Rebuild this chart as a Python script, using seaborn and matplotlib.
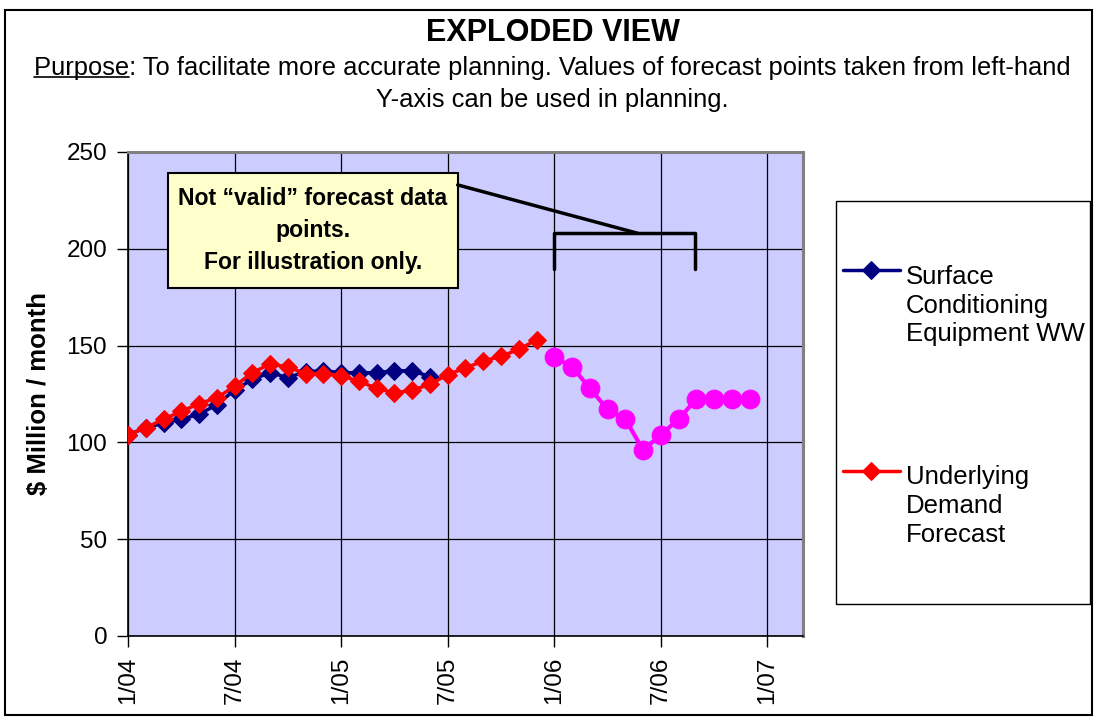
import pandas as pd
import matplotlib
matplotlib.use("Agg")
import matplotlib.pyplot as plt
import seaborn as sns
from matplotlib.patches import Rectangle
from matplotlib.lines import Line2D
from matplotlib.legend_handler import HandlerLine2D

# ── Data (months counted from 1/04) ──────────────────────────────────
surface_months = list(range(0, 18))
surface_values = [104, 107.5, 110, 112, 114.5, 119.5, 127, 132.5, 136, 133.5,
                  136.5, 137, 136, 136, 136, 137, 137, 134]

demand_months = list(range(0, 24))
demand_values = [104, 107.5, 112, 116, 120, 123, 129, 136, 140.5, 139,
                 135.5, 135.5, 134.5, 131.5, 128, 125.5, 127, 130, 135, 138.5,
                 142, 144.5, 148, 153]

forecast_months = list(range(24, 36))
forecast_values = [144, 139, 128, 117, 112, 96, 104, 112, 122.5, 122.5, 122.5, 122.5]

tick_months = [0, 6, 12, 18, 24, 30, 36]
tick_labels = ["1/04", "7/04", "1/05", "7/05", "1/06", "7/06", "1/07"]

series_labels = ["Surface\nConditioning\nEquipment WW", "Underlying\nDemand\nForecast"]

NAVY = "#000080"
RED = "#FF0000"
MAGENTA = "#FF00FF"
PLOT_BG = "#CCCCFF"

LEG_FS = 18.5
LEG_LINESP = 1.25


class FirstLineHandler(HandlerLine2D):
    # put the legend line next to the first text line instead of the middle one
    def create_artists(self, legend, orig_handle, xdescent, ydescent,
                       width, height, fontsize, trans):
        shift = 2 * 1.4 * fontsize
        return super().create_artists(legend, orig_handle, xdescent,
                                      ydescent - shift, width, height,
                                      fontsize, trans)


sns.set_style("ticks")
plt.rcParams["font.family"] = ["Liberation Sans", "DejaVu Sans"]
for key in ["text.color", "axes.labelcolor", "xtick.color", "ytick.color"]:
    plt.rcParams[key] = "black"

W, H = 1094, 720
fig = plt.figure(figsize=(W / 100, H / 100), dpi=100)
ax = fig.add_axes([128 / W, 1 - 636 / H, (803 - 128) / W, (636 - 152) / H])
ax.set_facecolor(PLOT_BG)

surface_df = pd.DataFrame({"month": surface_months, "value": surface_values})
demand_df = pd.DataFrame({"month": demand_months, "value": demand_values})
forecast_df = pd.DataFrame({"month": forecast_months, "value": forecast_values})

sns.lineplot(data=surface_df, x="month", y="value", ax=ax, color=NAVY,
             linewidth=2.5, marker="D", markersize=9.5, markeredgecolor=NAVY,
             label=series_labels[0], zorder=3)
sns.lineplot(data=demand_df, x="month", y="value", ax=ax, color=RED,
             linewidth=2.5, marker="D", markersize=9.5, markeredgecolor=RED,
             label=series_labels[1], zorder=4)
sns.lineplot(data=forecast_df, x="month", y="value", ax=ax, color=MAGENTA,
             linewidth=3, marker="o", markersize=13.5, markeredgecolor=MAGENTA,
             zorder=5)

# ── Axes styling ─────────────────────────────────────────────────────
ax.set_xlim(0, 38)
ax.set_ylim(0, 250)
ax.set_xticks(tick_months)
ax.set_xticklabels(tick_labels, rotation=90)
ax.set_yticks([0, 50, 100, 150, 200, 250])
ax.grid(True, color="black", linewidth=0.9)
ax.set_axisbelow(True)
ax.tick_params(axis="both", direction="out", length=8, width=1, color="black",
               labelsize=17.5, pad=7)
ax.set_xlabel("")
ax.set_ylabel("$ Million / month", fontsize=18.5, fontweight="bold")
ax.yaxis.set_label_coords(-0.114, 0.5)
for side in ["left", "bottom"]:
    ax.spines[side].set_color("black")
    ax.spines[side].set_linewidth(1.2)
for side in ["top", "right"]:
    ax.spines[side].set_color("#808080")
    ax.spines[side].set_linewidth(2.2)

# ── "Not valid" callout ──────────────────────────────────────────────
ax.add_patch(Rectangle((2.25, 180), 16.3, 59, facecolor="#FFFFCC",
                       edgecolor="black", linewidth=1.5, zorder=6))
ax.text(10.4, 209.5, "Not \u201cvalid\u201d forecast data\npoints.\nFor illustration only.",
        ha="center", va="center", fontsize=16.6, fontweight="bold",
        linespacing=1.52, zorder=7)
ax.plot([18.56, 28.7], [233, 208], color="black", linewidth=2.5, zorder=6)
ax.plot([24, 24, 31.9, 31.9], [189.5, 208, 208, 189.5], color="black",
        linewidth=2.5, zorder=6)

# ── Legend in its own framed box ─────────────────────────────────────
ax.legend_.remove()
fig.add_artist(Rectangle((836 / W, 1 - 604 / H), 254 / W, 403 / H,
                         transform=fig.transFigure, facecolor="white",
                         edgecolor="black", linewidth=1))
handles, labels = ax.get_legend_handles_labels()
leg = fig.legend(handles, labels, loc="upper left",
                 bbox_to_anchor=(843 / W, 1 - 265 / H), frameon=False,
                 fontsize=LEG_FS, handlelength=2.2, handletextpad=0.25,
                 labelspacing=4.63, borderaxespad=0, borderpad=0,
                 handler_map={h: FirstLineHandler() for h in handles})
for t in leg.get_texts():
    t.set_linespacing(LEG_LINESP)

# ── Titles ───────────────────────────────────────────────────────────
fig.text(0.505, 1 - 33 / H, "EXPLODED VIEW", ha="center", va="center",
         fontsize=22, fontweight="bold")
sub1 = fig.text(0.505, 1 - 68 / H,
                "Purpose: To facilitate more accurate planning. Values of forecast "
                "points taken from left-hand", ha="center", va="center", fontsize=18.4)
fig.text(0.505, 1 - 100 / H, "Y-axis can be used in planning.", ha="center",
         va="center", fontsize=18.4)

# underline "Purpose"
fig.canvas.draw()
renderer = fig.canvas.get_renderer()
tmp = fig.text(0, 0, "Purpose", fontsize=18.4)
pw = tmp.get_window_extent(renderer).width
tmp.remove()
bb = sub1.get_window_extent(renderer)
uy = (bb.y0 + 3) / H
fig.add_artist(Line2D([bb.x0 / W, (bb.x0 + pw) / W], [uy, uy],
                      transform=fig.transFigure, color="black", linewidth=1.2))

# outer frame
fig.add_artist(Rectangle((5 / W, 5 / H), 1087 / W, 705 / H,
                         transform=fig.transFigure, fill=False,
                         edgecolor="black", linewidth=1.5))

fig.savefig("out.png", dpi=100)
